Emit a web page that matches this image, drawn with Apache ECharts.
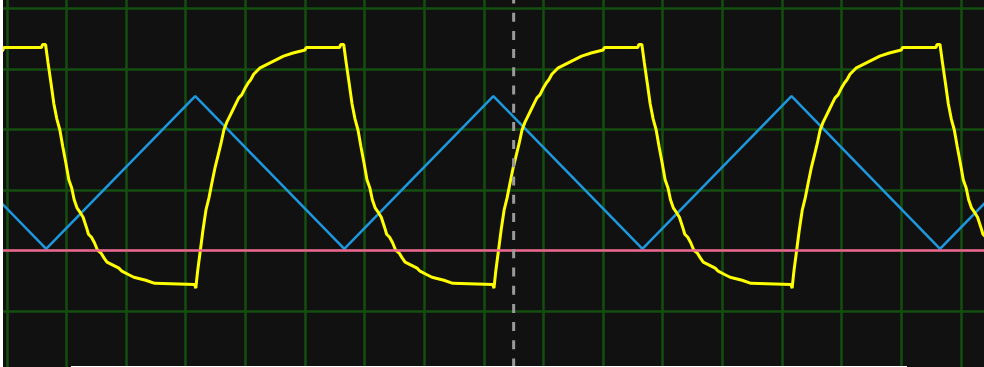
<!DOCTYPE html>
<html>
<head>
<meta charset="utf-8">
<script src="https://cdn.jsdelivr.net/npm/echarts@6/dist/echarts.min.js"></script>
<style>
  html, body { margin: 0; padding: 0; background: #111111; }
  #scope { width: 984px; height: 367px; }
</style>
</head>
<body>
<div id="scope"></div>
<script>
// Time in divisions, amplitude in divisions (0 = ground reference).

// Channel 1 (yellow): RC-filtered square wave, one array per sweep cycle.
const yellowCycle0 = [
  [-0.56,3.11],[-0.46,3.16],[-0.36,3.21],[-0.20,3.26],[-0.07,3.30],[-0.05,3.35]
];
const yellowCycle1 = [
  [0.58,3.35],[0.60,3.40],[0.65,3.40],[0.69,3.11],[0.74,2.77],[0.79,2.42],[0.84,2.17],[0.89,1.99],
  [0.94,1.71],[0.99,1.45],[1.04,1.17],[1.09,1.03],[1.13,0.84],[1.18,0.70],[1.23,0.63],[1.28,0.55],
  [1.34,0.37],[1.37,0.27],[1.42,0.22],[1.47,0.13],[1.52,0.01],[1.58,-0.04],[1.63,-0.12],[1.68,-0.19],
  [1.78,-0.24],[1.88,-0.29],[1.93,-0.34],[2.03,-0.39],[2.13,-0.44],[2.33,-0.49],[2.48,-0.54],[2.50,-0.56],
  [3.15,-0.56],[3.17,-0.62],[3.20,-0.34],[3.24,-0.04],[3.29,0.34],[3.34,0.67],[3.39,0.87],[3.44,1.12],
  [3.49,1.36],[3.54,1.56],[3.59,1.76],[3.64,1.99],[3.69,2.12],[3.74,2.22],[3.79,2.32],[3.84,2.42],
  [3.89,2.52],[3.94,2.57],[3.99,2.67],[4.05,2.77],[4.09,2.82],[4.14,2.91],[4.19,2.96],[4.24,3.01],
  [4.34,3.06],[4.44,3.11],[4.54,3.16],[4.64,3.21],[4.80,3.26],[5.00,3.31],[5.02,3.35]
];
const yellowCycle2 = [
  [5.58,3.35],[5.60,3.40],[5.65,3.40],[5.69,3.11],[5.74,2.77],[5.79,2.42],[5.84,2.17],[5.89,1.99],
  [5.94,1.71],[5.99,1.45],[6.04,1.17],[6.09,1.03],[6.13,0.84],[6.18,0.70],[6.23,0.63],[6.28,0.55],
  [6.34,0.37],[6.37,0.27],[6.42,0.22],[6.47,0.13],[6.52,0.01],[6.58,-0.04],[6.63,-0.12],[6.68,-0.19],
  [6.78,-0.24],[6.88,-0.29],[6.93,-0.34],[7.03,-0.39],[7.13,-0.44],[7.33,-0.49],[7.48,-0.54],[7.50,-0.56],
  [8.15,-0.56],[8.17,-0.62],[8.20,-0.34],[8.24,-0.04],[8.29,0.34],[8.34,0.67],[8.39,0.87],[8.44,1.12],
  [8.49,1.36],[8.54,1.56],[8.59,1.76],[8.64,1.99],[8.69,2.12],[8.74,2.22],[8.79,2.32],[8.84,2.42],
  [8.89,2.52],[8.94,2.57],[8.99,2.67],[9.05,2.77],[9.09,2.82],[9.14,2.91],[9.19,2.96],[9.24,3.01],
  [9.34,3.06],[9.44,3.11],[9.54,3.16],[9.64,3.21],[9.80,3.26],[10.00,3.31],[10.02,3.35]
];
const yellowCycle3 = [
  [10.58,3.35],[10.60,3.40],[10.65,3.40],[10.69,3.11],[10.74,2.77],[10.79,2.42],[10.84,2.17],[10.89,1.99],
  [10.94,1.71],[10.99,1.45],[11.04,1.17],[11.09,1.03],[11.13,0.84],[11.18,0.70],[11.23,0.63],[11.28,0.55],
  [11.34,0.37],[11.37,0.27],[11.42,0.22],[11.47,0.13],[11.52,0.01],[11.58,-0.04],[11.63,-0.12],[11.68,-0.19],
  [11.78,-0.24],[11.88,-0.29],[11.93,-0.34],[12.03,-0.39],[12.13,-0.44],[12.33,-0.49],[12.48,-0.54],[12.50,-0.56],
  [13.15,-0.56],[13.17,-0.62],[13.20,-0.34],[13.24,-0.04],[13.29,0.34],[13.34,0.67],[13.39,0.87],[13.44,1.12],
  [13.49,1.36],[13.54,1.56],[13.59,1.76],[13.64,1.99],[13.69,2.12],[13.74,2.22],[13.79,2.32],[13.84,2.42],
  [13.89,2.52],[13.94,2.57],[13.99,2.67],[14.05,2.77],[14.09,2.82],[14.14,2.91],[14.19,2.96],[14.24,3.01],
  [14.34,3.06],[14.44,3.11],[14.54,3.16],[14.64,3.21],[14.80,3.26],[15.00,3.31],[15.02,3.35]
];
const yellowCycle4 = [
  [15.58,3.35],[15.60,3.40],[15.65,3.40],[15.69,3.11],[15.74,2.77],[15.79,2.42],[15.84,2.17],[15.89,1.99],
  [15.94,1.71],[15.99,1.45],[16.04,1.17],[16.09,1.03],[16.13,0.84],[16.18,0.70],[16.23,0.63],[16.28,0.55],
  [16.34,0.37],[16.37,0.27],[16.42,0.22],[16.47,0.13]
];

// Channel 2 (blue): triangle wave, turning points only.
const blueTrace = [
  [-1.84,2.55],[0.66,0.03],[3.16,2.55],[5.66,0.03],[8.16,2.55],
  [10.66,0.03],[13.16,2.55],[15.65,0.03],[18.16,2.55]
];

// Ground reference level and trigger position.
const groundLevel = 0;
const triggerTime = 8.5;

// Graticule extent (divisions).
const timeRange = [-1, 17];
const levelRange = [-2, 5];

const yellowTrace = [].concat(yellowCycle0, yellowCycle1, yellowCycle2, yellowCycle3, yellowCycle4);

const DIV_X = 59.63, DIV_Y = 60.6;
const GRID_COLOR = '#154f10';

const chart = echarts.init(document.getElementById('scope'), null, { renderer: 'canvas' });

const hiddenAxis = (range) => ({
  type: 'value',
  min: range[0],
  max: range[1],
  interval: 1,
  axisLine: { show: false },
  axisTick: { show: false },
  axisLabel: { show: false },
  splitLine: { show: true, lineStyle: { color: GRID_COLOR, width: 2.5 } }
});

chart.setOption({
  backgroundColor: '#111111',
  animation: false,
  grid: {
    outerBoundsMode: 'none',
    containLabel: false,
    left: 6.8 - DIV_X,
    top: 8.2 - DIV_Y,
    width: DIV_X * (timeRange[1] - timeRange[0]),
    height: DIV_Y * (levelRange[1] - levelRange[0])
  },
  xAxis: hiddenAxis(timeRange),
  yAxis: hiddenAxis(levelRange),
  series: [
    {
      name: 'CH2',
      type: 'line',
      data: blueTrace,
      showSymbol: false,
      silent: true,
      z: 2,
      lineStyle: { color: '#1d98df', width: 2.5 }
    },
    {
      name: 'CH1',
      type: 'line',
      data: yellowTrace,
      showSymbol: false,
      silent: true,
      z: 3,
      lineStyle: { color: '#ffff00', width: 3 }
    },
    {
      name: 'GND',
      type: 'line',
      data: [[timeRange[0], groundLevel], [timeRange[1], groundLevel]],
      showSymbol: false,
      silent: true,
      z: 4,
      lineStyle: { color: '#f06292', width: 2.5 }
    },
    {
      name: 'TRIG',
      type: 'line',
      data: [[triggerTime, levelRange[1]], [triggerTime, levelRange[0]]],
      showSymbol: false,
      silent: true,
      z: 5,
      lineStyle: { color: '#9a9a9a', width: 3, type: [9, 9.2], dashOffset: 7.7 }
    }
  ],
  graphic: [
    { type: 'rect', z: 100, shape: { x: 0, y: 0, width: 3, height: 367 }, style: { fill: '#ffffff' } },
    { type: 'rect', z: 100, shape: { x: 71, y: 366, width: 836, height: 1 }, style: { fill: '#ffffff' } }
  ]
});
</script>
</body>
</html>
